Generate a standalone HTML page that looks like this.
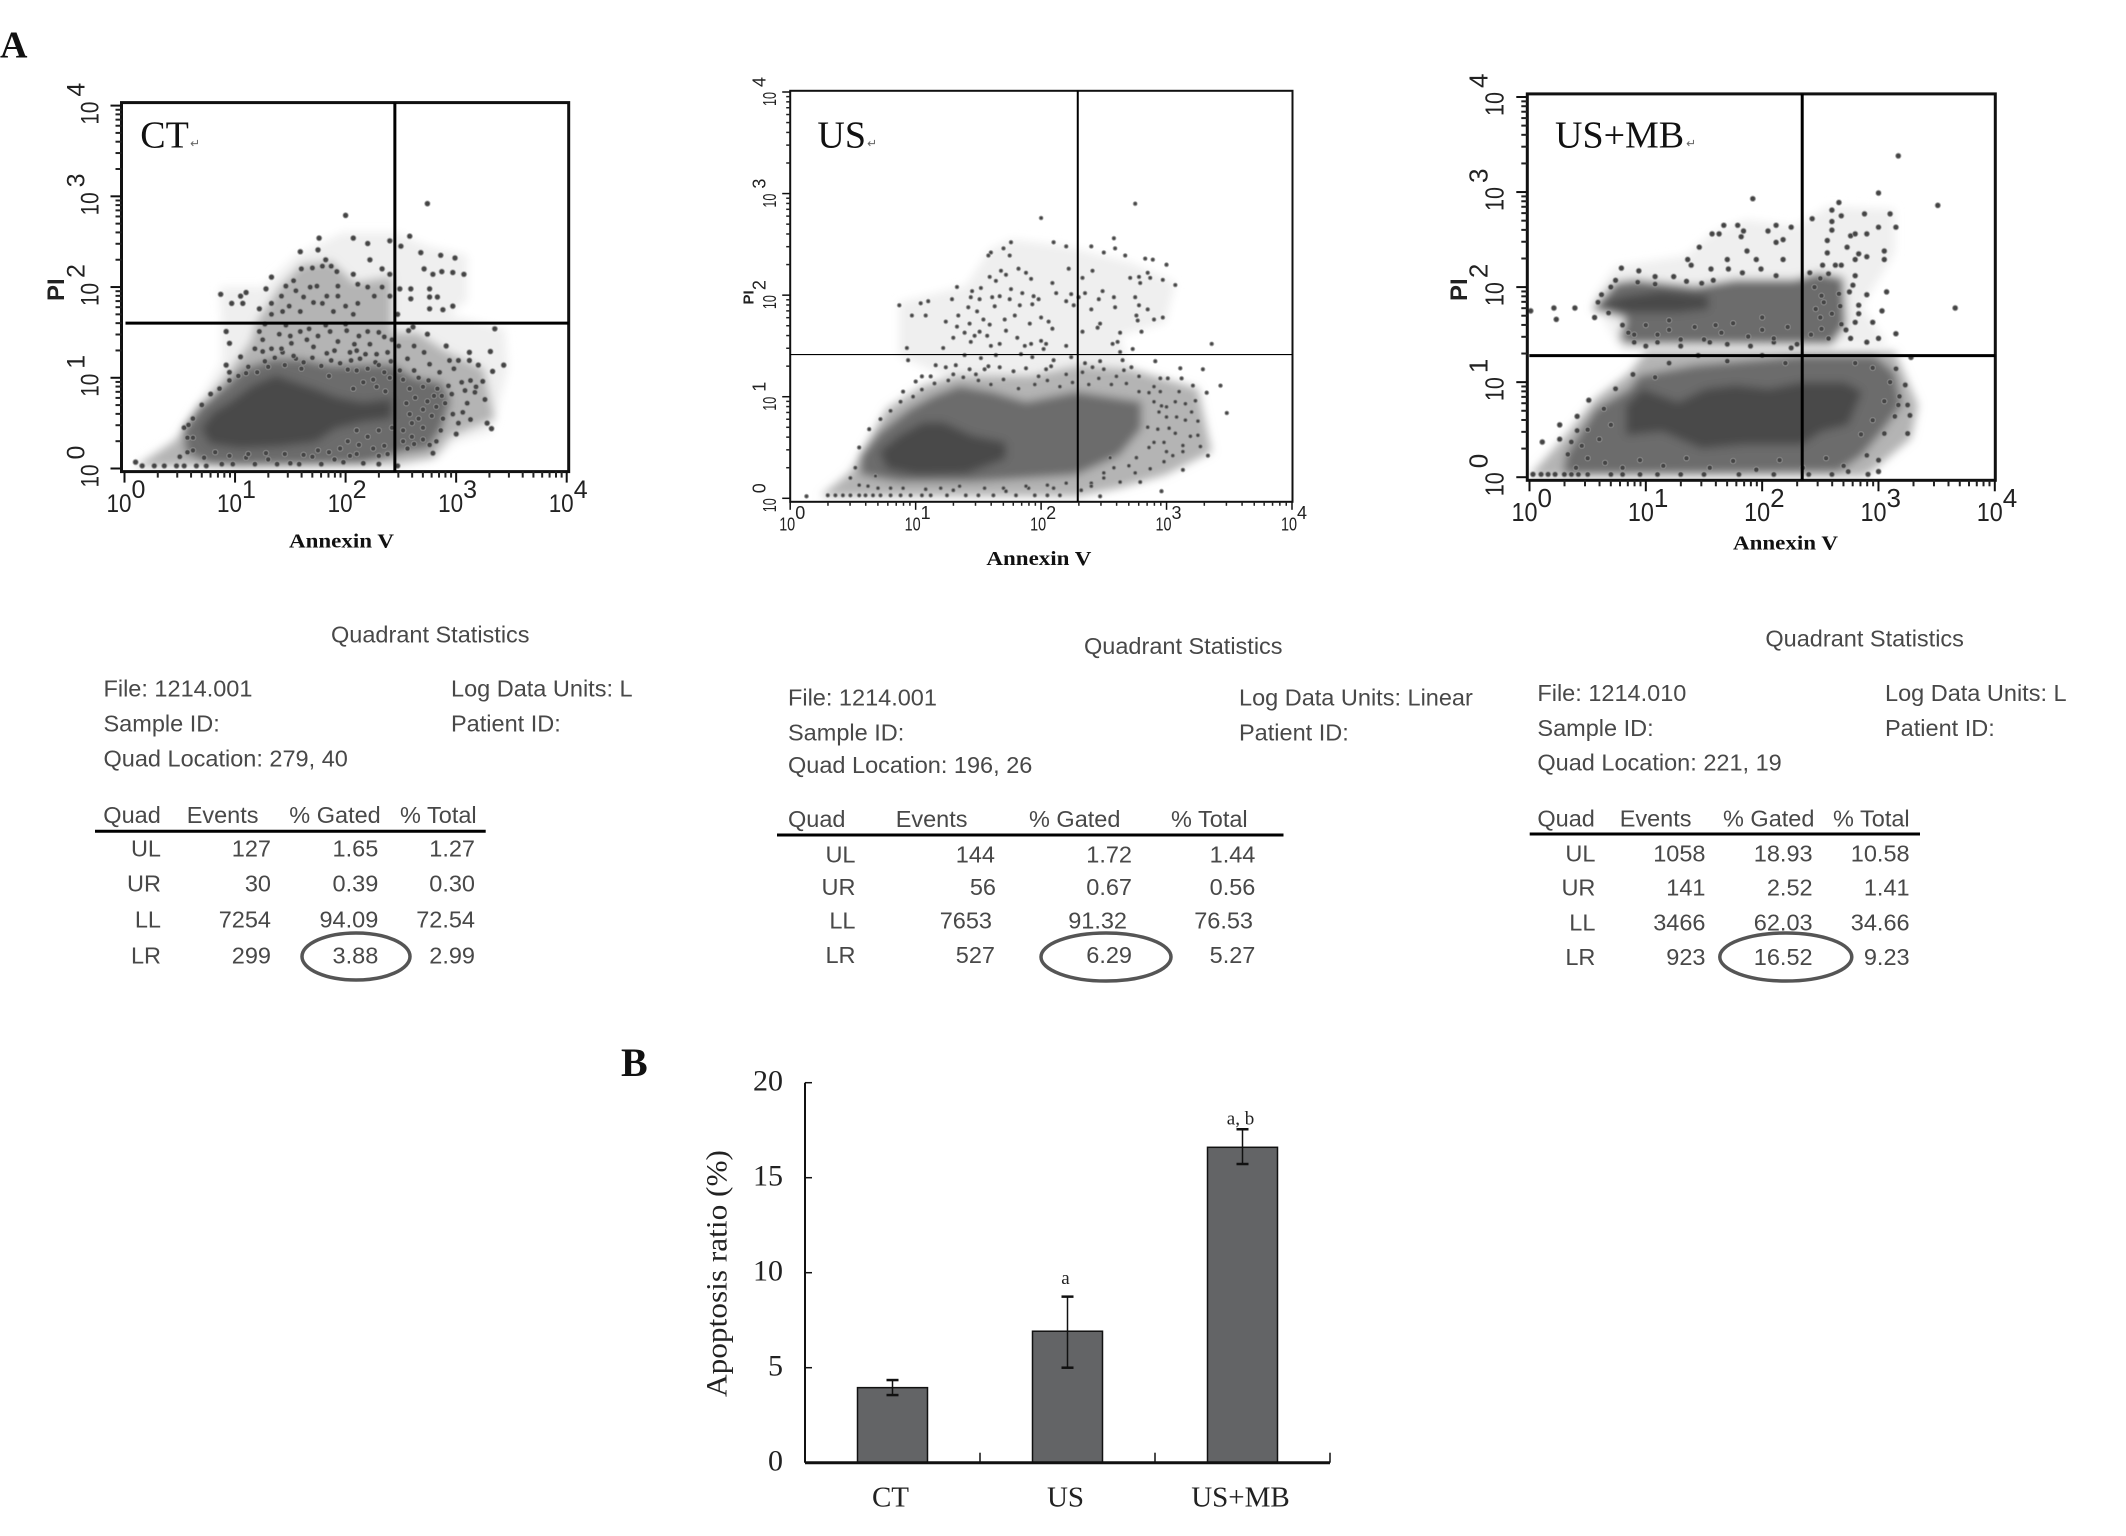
<!DOCTYPE html>
<html lang="en">
<head>
<meta charset="utf-8">
<title>Flow cytometry apoptosis figure</title>
<style>
html,body{margin:0;padding:0;background:#fff;}
svg{display:block;}
.st{font-family:"Liberation Sans",sans-serif;font-size:23.5px;fill:#484848;}
.e{text-anchor:end;}
.serif{font-family:"Liberation Serif",serif;fill:#111;}
</style>
</head>
<body>
<svg id="figure" xmlns="http://www.w3.org/2000/svg" width="2126" height="1536" viewBox="0 0 2126 1536">
<defs>
<filter id="soft-density" x="-10%" y="-10%" width="120%" height="120%"><feGaussianBlur stdDeviation="4.5"/></filter>
</defs>
<rect x="0" y="0" width="2126" height="1536" fill="#fff"/>
<text class="serif" x="0" y="57.5" font-size="38" font-weight="bold">A</text>
<text class="serif" x="621" y="1076" font-size="40" font-weight="bold">B</text>

<g>
<text class="st" x="331" y="642.6">Quadrant Statistics</text>
<text class="st" x="103.5" y="696.6">File: 1214.001</text>
<text class="st" x="103.5" y="731.6">Sample ID:</text>
<text class="st" x="103.5" y="766.6">Quad Location: 279, 40</text>
<text class="st" x="451" y="696.6">Log Data Units: L</text>
<text class="st" x="451" y="731.6">Patient ID:</text>
<text class="st" x="103.3" y="823">Quad</text>
<text class="st" x="186.7" y="823">Events</text>
<text class="st" x="289.3" y="823">% Gated</text>
<text class="st" x="400" y="823">% Total</text>
<line x1="95" y1="831.3" x2="485.7" y2="831.3" stroke="#000" stroke-width="3"/>
<text class="st e" x="161" y="856.7">UL</text>
<text class="st e" x="271" y="856.7">127</text>
<text class="st e" x="378.3" y="856.7">1.65</text>
<text class="st e" x="475" y="856.7">1.27</text>
<text class="st e" x="161" y="891.7">UR</text>
<text class="st e" x="271" y="891.7">30</text>
<text class="st e" x="378.3" y="891.7">0.39</text>
<text class="st e" x="475" y="891.7">0.30</text>
<text class="st e" x="161" y="927.7">LL</text>
<text class="st e" x="271" y="927.7">7254</text>
<text class="st e" x="378.3" y="927.7">94.09</text>
<text class="st e" x="475" y="927.7">72.54</text>
<text class="st e" x="161" y="963.3">LR</text>
<text class="st e" x="271" y="963.3">299</text>
<text class="st e" x="378.3" y="963.3">3.88</text>
<text class="st e" x="475" y="963.3">2.99</text>
<ellipse cx="356" cy="956.5" rx="54" ry="23.5" fill="none" stroke="#555" stroke-width="3.5"/>
</g>

<g>
<text class="st" x="1084" y="654">Quadrant Statistics</text>
<text class="st" x="788" y="705.6">File: 1214.001</text>
<text class="st" x="788" y="740.5">Sample ID:</text>
<text class="st" x="788" y="773.2">Quad Location: 196, 26</text>
<text class="st" x="1239" y="705.6">Log Data Units: Linear</text>
<text class="st" x="1239" y="740.5">Patient ID:</text>
<text class="st" x="788" y="827">Quad</text>
<text class="st" x="895.7" y="827">Events</text>
<text class="st" x="1029" y="827">% Gated</text>
<text class="st" x="1171" y="827">% Total</text>
<line x1="777" y1="835" x2="1283.5" y2="835" stroke="#000" stroke-width="3"/>
<text class="st e" x="855.5" y="862.4">UL</text>
<text class="st e" x="995" y="862.4">144</text>
<text class="st e" x="1132" y="862.4">1.72</text>
<text class="st e" x="1255.4" y="862.4">1.44</text>
<text class="st e" x="855.5" y="895">UR</text>
<text class="st e" x="996" y="895">56</text>
<text class="st e" x="1132" y="895">0.67</text>
<text class="st e" x="1255.4" y="895">0.56</text>
<text class="st e" x="855.5" y="928.7">LL</text>
<text class="st e" x="992" y="928.7">7653</text>
<text class="st e" x="1127" y="928.7">91.32</text>
<text class="st e" x="1253" y="928.7">76.53</text>
<text class="st e" x="855.5" y="963">LR</text>
<text class="st e" x="995" y="963">527</text>
<text class="st e" x="1132" y="963">6.29</text>
<text class="st e" x="1255.4" y="963">5.27</text>
<ellipse cx="1106" cy="957" rx="65" ry="24" fill="none" stroke="#555" stroke-width="3.5"/>
</g>

<g>
<text class="st" x="1765.4" y="646.6">Quadrant Statistics</text>
<text class="st" x="1537.4" y="701">File: 1214.010</text>
<text class="st" x="1537.4" y="736">Sample ID:</text>
<text class="st" x="1537.4" y="770.5">Quad Location: 221, 19</text>
<text class="st" x="1885" y="701">Log Data Units: L</text>
<text class="st" x="1885" y="736">Patient ID:</text>
<text class="st" x="1537.4" y="826.5">Quad</text>
<text class="st" x="1619.7" y="826.5">Events</text>
<text class="st" x="1723" y="826.5">% Gated</text>
<text class="st" x="1833" y="826.5">% Total</text>
<line x1="1529.7" y1="834" x2="1920" y2="834" stroke="#000" stroke-width="3"/>
<text class="st e" x="1595.4" y="861.4">UL</text>
<text class="st e" x="1705.5" y="861.4">1058</text>
<text class="st e" x="1812.6" y="861.4">18.93</text>
<text class="st e" x="1909.6" y="861.4">10.58</text>
<text class="st e" x="1595.4" y="895.7">UR</text>
<text class="st e" x="1705.5" y="895.7">141</text>
<text class="st e" x="1812.6" y="895.7">2.52</text>
<text class="st e" x="1909.6" y="895.7">1.41</text>
<text class="st e" x="1595.4" y="930.3">LL</text>
<text class="st e" x="1705.5" y="930.3">3466</text>
<text class="st e" x="1812.6" y="930.3">62.03</text>
<text class="st e" x="1909.6" y="930.3">34.66</text>
<text class="st e" x="1595.4" y="965">LR</text>
<text class="st e" x="1705.5" y="965">923</text>
<text class="st e" x="1812.6" y="965">16.52</text>
<text class="st e" x="1909.6" y="965">9.23</text>
<ellipse cx="1785.8" cy="957" rx="66" ry="24" fill="none" stroke="#555" stroke-width="3.5"/>
</g>
</svg>

<script>
/* ---------- shared axis data ---------- */
const decadeExponents = [0, 1, 2, 3, 4];
const minorMultiples = [2, 3, 4, 5, 6, 7, 8, 9];

/* ---------- scatter: quadrant gates in linear fluorescence units ---------- */
const ctQuadLocation = [279, 40];
const usQuadLocation = [196, 26];
const mbQuadLocation = [221, 19];

/* ---------- scatter: density regions, [log10 Annexin V, log10 PI] ---------- */
const ctFaintRegion = [[.86,2],[1.25,2],[1.55,2.35],[1.97,2.6],[2.45,2.6],[2.75,2.45],[3.1,2.35],[3.1,1.85],[2.93,1.7],[3.44,1.54],[3.47,1.1],[3.32,.4],[2.99,.29],[2.83,.11],[2.45,0],[.07,0],[.5,.37],[.88,1.17],[.88,1.54]];
const ctUpperSparseRegion = [[1.19,1.61],[1.4,2],[1.6,2.25],[1.87,2.29],[2.08,2.05],[2.42,2.12],[2.42,1.24],[1.07,1.1]];
const ctLowerSparseRegion = [[.45,.3],[.9,1],[1.05,1.25],[1.2,1.5],[2.4,1.5],[2.65,1.5],[2.9,1.3],[3.25,1.1],[3.35,.55],[2.95,.35],[2.8,.12],[2.45,.05],[.1,.02]];
const ctMidRegion = [[.53,.44],[.68,.7],[.92,.92],[1.07,1.1],[1.34,1.21],[1.6,1.21],[1.87,1.14],[2.15,1.15],[2.42,1.15],[2.63,1],[2.87,.95],[2.95,.75],[2.87,.44],[2.75,.22],[2.5,.18],[2.42,.14],[2.15,.04],[1.04,.02],[.77,.04],[.55,.18]];
const ctCoreRegion = [[.69,.44],[.8,.62],[.95,.73],[1.16,.92],[1.37,1.03],[1.55,.95],[1.73,.88],[1.91,.79],[2.15,.73],[2.42,.77],[2.42,.55],[2.15,.51],[1.91,.44],[1.73,.29],[1.4,.24],[1.04,.22],[.77,.27]];

const usFaintRegion = [[.87,1.93],[1.4,2.09],[1.59,2.45],[1.77,2.55],[2.2,2.48],[2.72,2.32],[3.07,2.12],[2.99,1.73],[2.62,1.6],[2.72,1.24],[1.22,1.21],[.87,1.4]];
const usSparseRegion = [[.48,.26],[.77,.88],[1.06,1.11],[1.32,1.21],[1.93,1.21],[2.3,1.31],[2.72,1.27],[3.25,1.08],[3.36,.46],[2.99,.23],[2.62,.1],[2.28,.02],[.24,.02]];
const usMidRegion = [[.56,.42],[.71,.65],[.95,.88],[1.14,1.01],[1.35,1.11],[1.61,1.05],[1.88,.95],[2.28,1.05],[2.8,.95],[2.8,.69],[2.62,.42],[2.28,.23],[1.93,.2],[1.45,.16],[.87,.16],[.56,.23]];
const usCoreRegion = [[.71,.46],[.87,.62],[1.06,.75],[1.22,.75],[1.45,.62],[1.72,.55],[1.72,.39],[1.4,.24],[1,.23],[.77,.29]];

const mbFaintRegion = [[.54,1.87],[.74,2.22],[1.34,2.33],[1.57,2.57],[1.86,2.71],[2.28,2.64],[2.57,2.85],[3.14,2.82],[3.14,2.36],[2.86,1.8],[3.08,1.39],[.8,1.32]];
const mbSparseRegion = [[1,1.32],[3.14,1.32],[3.34,.76],[3.28,.41],[2.94,.06],[2.86,.01],[0,.01],[.29,.41],[.57,.83],[.86,1.1]];
const mbMidRegion = [[.31,.23],[.57,.72],[.86,.93],[.94,1.07],[1.43,1.18],[2.34,1.28],[2.97,1.28],[3.14,1.1],[3.2,.76],[3.03,.48],[2.86,.23],[2.66,.06],[.29,.03]];
const mbUpperMidRegion = [[.54,1.77],[.74,2.05],[.91,2.08],[1.43,2.01],[1.77,2.08],[2.28,2.08],[2.48,2.15],[2.7,2.1],[2.72,1.6],[2.6,1.4],[.83,1.4],[.77,1.46],[.83,1.67]];
const mbCoreRegion = [[.83,.76],[.97,.93],[1.28,.79],[1.51,.93],[1.77,.97],[2.06,.93],[2.34,1],[2.71,1],[2.86,.9],[2.74,.55],[2.51,.48],[2.34,.34],[1.83,.34],[1.48,.3],[1.14,.48],[.83,.44]];
const mbUpperCoreRegion = [[.57,1.82],[.83,1.91],[1.14,1.96],[1.54,1.91],[1.54,1.77],[1.28,1.73],[.86,1.73]];

/* ---------- scatter: individually visible events, [log10 Annexin V, log10 PI] ---------- */
const ctEvents = [[2,2.79],[2.74,2.92],[1.76,2.54],[2.07,2.54],[2.2,2.48],[2.4,2.51],[2.58,2.56],[2.5,2.45],[2.68,2.38],[1.59,2.39],[1.75,2.41],[2.22,2.3],[2.86,2.35],[2.99,2.32],[1.82,2.3],[1.6,2.2],[1.7,2.21],[1.79,2.23],[1.87,2.23],[1.92,2.17],[2.07,2.14],[2.33,2.2],[2.4,2.14],[2.71,2.2],[2.79,2.14],[2.87,2.17],[2.97,2.16],[3.07,2.14],[1.33,2.11],[1.53,2.07],[1.46,2.01],[1.28,1.98],[1.1,1.94],[.87,1.92],[1.05,1.9],[.97,1.82],[1.07,1.82],[1.42,1.9],[1.55,1.96],[1.62,1.89],[1.68,2],[1.74,2.01],[1.83,1.9],[1.93,1.9],[1.93,2.01],[2.11,2.03],[2.2,2],[2.26,1.9],[2.33,2],[2.4,1.9],[2.49,1.98],[2.59,1.87],[2.59,1.98],[2.76,1.98],[2.76,1.89],[2.83,1.89],[2.76,1.76],[2.88,1.75],[2.97,1.79],[1.33,1.82],[1.22,1.76],[1.33,1.7],[1.43,1.73],[1.49,1.79],[1.59,1.73],[1.71,1.83],[1.79,1.82],[1.89,1.73],[2,1.79],[2.07,1.7],[2.11,1.82],[2.47,1.7],[1.27,1.59],[1.46,1.58],[1.82,1.58],[2,1.59],[.92,1.51],[.95,1.38],[1.22,1.51],[1.4,1.48],[1.59,1.51],[1.67,1.54],[1.86,1.51],[2.01,1.52],[2.2,1.51],[2.35,1.45],[2.57,1.52],[2.61,1.56],[2.74,1.48],[3.35,1.54],[1.51,1.38],[1.65,1.42],[1.93,1.4],[2.08,1.37],[2.22,1.37],[2.48,1.35],[2.62,1.35],[2.91,1.35],[1.18,1.32],[1.25,1.29],[1.33,1.32],[1.43,1.28],[1.71,1.34],[2.04,1.28],[2.18,1.26],[2.38,1.28],[2.71,1.28],[3.12,1.28],[3.31,1.29],[1.05,1.23],[1.55,1.21],[1.87,1.19],[2.05,1.19],[2.27,1.17],[2.56,1.21],[2.76,1.15],[2.94,1.19],[3.02,1.19],[3.12,1.19],[.92,1.14],[.95,1.06],[3.43,1.14],[3.33,1.07],[3.2,1.14],[2.98,1.1],[2.85,1.06],[2.49,1.08],[2.62,1.08],[3.05,.95],[3.13,.97],[3.24,.96],[2.93,.91],[3.26,.76],[3.17,.84],[2.97,.6],[3.13,.54],[3.06,.62],[3.28,.5],[3.32,.44],[3.02,.5],[3,.38],[2.88,.55],[2.79,.17],[2.76,.26],[2.62,.27],[2.56,.22],[2.47,.03],[.1,.07],[.16,.03],[.27,.03],[.36,.03],[.47,.03],[.54,.03],[.65,.03],[.74,.03],[.5,.13],[.57,.18],[.54,.45],[.58,.48],[.57,.34],[.62,.34],[1.1,1.05],[1.3,1.12],[1.6,1.1],[1.85,1.02],[2.1,1.08],[2.3,1.14],[2.25,.98],[2.4,1],[2.7,.9],[2.8,.8],[2.7,.65],[2.82,.68],[2.9,.72],[2.6,.5],[2.7,.45],[2.82,.3],[1.1,.12],[1.3,.1],[1.5,.06],[1.7,.13],[1.9,.1],[2.1,.16],[2.3,.05],[2.35,.25],
[.62,.55],[.7,.7],[.78,.82],[.86,.88],[.95,.97],[1.03,1.02],[1.12,1.12],[1.2,1.06],[1.27,1.18],[1.36,1.22],[1.45,1.14],[1.53,1.24],[1.62,1.17],[1.7,1.22],[1.78,1.13],[1.83,1.27],[1.95,1.16],[2.02,1.09],[2.13,1.21],[2.2,1.1],[2.28,1.26],[2.35,1.06],[2.41,1.18],[2.16,.95],[2.07,.88],[2.28,.9],[2.36,.85],[2.52,.98],[2.58,.88],[2.66,1],[2.75,.97],[2.83,.88],[2.55,.72],[2.63,.78],[2.74,.74],[2.87,.8],[2.96,.82],[3.08,.86],[3.18,.9],[3.1,.72],[2.58,.6],[2.66,.55],[2.78,.58],[2.86,.42],[2.52,.42],[2.6,.35],[2.7,.32],[2.52,.3],[2.42,.45],[2.3,.42],[2.2,.35],[2.1,.42],[2.02,.3],[1.95,.22],[1.85,.18],[1.75,.2],[1.62,.15],[1.45,.16],[1.28,.17],[1.12,.16],[.95,.14],[.82,.18],[.72,.12],[.62,.2],[2.38,.16],[2.25,.22],[2.12,.26],[2.04,.14],[1.98,.07],[1.78,.05],[1.58,.05],[1.38,.05],[1.18,.05],[.98,.05],[.88,.05],[2.16,.06],[2.3,.14],[1.25,1.42],[1.5,1.46],[1.75,1.46],[1.9,1.3],[2.12,1.46],[2.3,1.5],[2.42,1.42],[2.1,1.3],[1.42,1.32]];

const usEvents = [[2,2.76],[2.75,2.9],[2.1,2.52],[2.2,2.48],[1.76,2.52],[1.7,2.46],[1.75,2.39],[1.6,2.42],[1.58,2.39],[2.4,2.48],[2.5,2.42],[2.58,2.56],[2.59,2.46],[2.67,2.39],[2.83,2.36],[2.89,2.35],[3,2.3],[2.22,2.26],[2.33,2.17],[2.41,2.24],[1.82,2.26],[1.88,2.22],[1.92,2.16],[1.68,2.24],[1.72,2.2],[1.59,2.18],[1.64,2.14],[1.33,2.08],[1.1,1.94],[1.04,1.92],[.87,1.9],[.97,1.8],[1.08,1.8],[1.29,1.96],[1.45,2.04],[1.52,2.07],[1.44,1.98],[1.51,1.96],[1.42,1.88],[1.61,1.98],[1.67,1.99],[1.63,1.89],[1.75,1.96],[1.83,1.9],[1.76,2.06],[1.85,2.02],[1.94,1.99],[1.93,1.91],[1.98,1.96],[2.09,2.12],[2.12,2.02],[2.24,2.01],[2.2,1.94],[2.26,1.9],[2.3,1.98],[2.35,2.02],[2.4,1.86],[2.46,1.96],[2.58,1.98],[2.59,1.88],[2.49,2.04],[2.71,2.17],[2.78,2.18],[2.79,2.12],[2.87,2.17],[2.85,2.22],[2.97,2.15],[3.07,2.1],[2.75,1.98],[2.78,1.9],[2.85,1.86],[2.76,1.8],[2.77,1.75],[2.9,1.76],[2.97,1.78],[2.8,1.64],[2.45,1.68],[2.47,1.72],[2.33,1.64],[1.24,1.74],[1.34,1.8],[1.43,1.72],[1.49,1.84],[1.54,1.76],[1.59,1.71],[1.71,1.76],[1.79,1.8],[1.91,1.72],[2,1.78],[2.06,1.74],[2.09,1.67],[1.33,1.69],[1.39,1.63],[1.47,1.6],[1.51,1.64],[1.57,1.6],[1.72,1.65],[1.81,1.58],[1.3,1.58],[1.44,1.54],[1.67,1.52],[1.6,1.5],[1.87,1.5],[1.92,1.52],[2,1.55],[2.04,1.52],[2.02,1.47],[2.2,1.5],[1.22,1.48],[.93,1.48],[2.57,1.52],[2.61,1.54],[2.63,1.63],[3.36,1.52],[.94,1.36],[1.16,1.31],[1.24,1.29],[1.32,1.31],[1.39,1.41],[1.52,1.38],[1.64,1.41],[1.84,1.42],[1.93,1.39],[2.1,1.36],[2.24,1.39],[2.47,1.35],[2.63,1.44],[2.65,1.36],[2.91,1.35],[2.73,1.47],[1.43,1.27],[1.48,1.22],[1.55,1.27],[1.67,1.29],[1.88,1.28],[2.04,1.27],[2.33,1.24],[2.41,1.29],[2.72,1.29],[2.66,1.26],[3.11,1.28],[3.29,1.27],[2.95,1.18],[3.01,1.18],[3.12,1.18],[3.43,1.11],[3.21,1.11],[3.32,1.04],[3.48,.84],[2.86,1.04],[2.95,1.05],[3.07,.95],[3.23,.96],[3.15,.93],[2.96,.91],[2.94,.85],[3.25,.76],[3.15,.77],[3.02,.69],[3.07,.64],[3.19,.61],[3.13,.52],[3.27,.51],[3.33,.42],[3.13,.46],[3,.46],[2.98,.36],[3.13,.28],[2.87,.29],[2.75,.25],[2.79,.16],[2.63,.16],[2.96,.07],[2.47,.02],[.13,.02],[.3,.03],[.36,.03],[.42,.03],[.48,.03],[.55,.03],[.6,.03],[.66,.03],[.72,.03],[.8,.03],[.88,.03],[.96,.03],[1.05,.03],[1.12,.03],[1.25,.03],[1.4,.03],[1.5,.03],[1.62,.03],[1.8,.03],[1.95,.03],[2.05,.03],[2.15,.03],[.48,.2],[.55,.13],[.7,.1],[.9,.1],[1.2,.1],[1.35,.12],[1.7,.1],[1.9,.1],[2.1,.1],[2.4,.15],[2.5,.25],[2.55,.4],[2.9,.55],[2.85,.7],[3,.8],
[.55,.5],[.63,.68],[.72,.78],[.8,.86],[.88,.95],[.98,1],[1.05,1.07],[1.15,1.13],[1.26,1.16],[1.38,1.19],[1.5,1.16],[1.6,1.12],[1.7,1.17],[1.82,1.08],[1.95,1.12],[2.05,1.16],[2.15,1.1],[2.25,1.14],[2.38,1.12],[2.46,1.18],[2.56,1.12],[2.68,1.13],[2.78,1.05],[2.9,.95],[3,.9],[3.08,.8],[2.93,.68],[2.98,.55],[2.86,.5],[2.76,.4],[2.7,.32],[2.58,.3],[2.5,.2],[2.4,.12],[2.32,.08],[2.2,.15],[2.05,.13],[1.88,.12],[1.72,.07],[1.55,.1],[1.3,.08],[1.08,.09],[.8,.1],[.62,.12],[.52,.3],[.68,.22],[2.6,1.2],[2.5,1.27],[2.2,1.22],[2.08,1.3],[1.78,1.25],[1.58,1.3],[1.3,1.22],[1.12,1.2],[1,1.15],[.9,1.05],[1.05,1.2],[1.98,1.2],[2.35,1.33],[2.78,1.2],[2.9,1.1],[3.1,1.05],[3.2,.85],[3.25,.62],[3.05,.42]];

const mbEvents = [[3.17,3.38],[1.92,2.93],[3.51,2.86],[3,2.99],[2.66,2.89],[2.6,2.81],[2.68,2.75],[2.43,2.72],[2.88,2.77],[3.1,2.77],[2.6,2.69],[2.6,2.6],[3,2.63],[3.15,2.63],[2.9,2.56],[2.76,2.54],[2.8,2.56],[2.56,2.49],[2.73,2.42],[2.56,2.36],[2.83,2.35],[2.9,2.32],[3.05,2.38],[3.05,2.29],[2.8,2.29],[1.67,2.65],[1.79,2.65],[1.84,2.59],[1.82,2.53],[1.57,2.56],[1.63,2.56],[2.05,2.59],[2.12,2.65],[2.25,2.63],[2.18,2.5],[2.12,2.47],[1.46,2.42],[1.87,2.38],[1.36,2.29],[1.39,2.23],[1.7,2.29],[1.95,2.29],[2.18,2.29],[.79,2.2],[.94,2.17],[1.08,2.11],[1.24,2.11],[.74,2.07],[.93,2.05],[1.08,2.03],[1.35,2.06],[1.48,2.04],[1.58,2.07],[1.56,2.19],[1.71,2.19],[1.83,2.15],[1.99,2.19],[2.12,2.12],[2.52,2.23],[2.63,2.23],[2.68,2.23],[2.8,2.12],[2.41,2.15],[2.5,2.09],[2.57,2.14],[3.07,1.95],[3.66,1.78],[3.03,1.75],[2.95,1.63],[3.15,1.51],[2.83,1.81],[2.83,1.72],[2.8,1.63],[2.76,1.46],[3,1.46],[2.9,1.42],[.01,1.75],[.21,1.78],[.39,1.78],[.23,1.66],[.56,1.68],[.59,1.84],[.68,1.73],[2.51,1.91],[2.66,1.93],[2.67,1.8],[2.46,1.77],[2.53,1.84],[2.68,1.61],[2.51,1.56],[2.57,1.46],[3.28,1.26],[.89,1.08],[1.08,1.05],[.74,.93],[.51,.81],[.41,.64],[.26,.55],[.41,.49],[.26,.4],[.11,.37],[.36,.37],[.33,.24],[.64,.72],[3.15,1.14],[3.23,.97],[3.18,.85],[3.25,.76],[3.17,.76],[3.27,.65],[3.14,.64],[3.25,.46],[3.05,.46],[2.9,.23],[3,.18],[3,.06],[2.74,.06],[2.91,.03],[.03,.03],[.1,.03],[.16,.03],[.22,.03],[.3,.03],[.36,.03],[.42,.03],[.5,.03],[.7,.03],[.8,.03],[.95,.03],[1.1,.03],[1.3,.03],[1.5,.03],[1.8,.03],[2.1,.03],[2.4,.03],[2.6,.03],[1.1,1.42],[1.3,1.38],[1.5,1.45],[1.7,1.4],[1.9,1.38],[2.1,1.42],[2.25,1.36],[1,1.38],[.9,1.5],[1.2,1.55],[1.6,1.6],[2,1.55],
[.62,1.92],[.7,2],[.8,1.6],[.85,1.52],[.9,1.42],[1,1.6],[1.1,1.5],[1.2,1.65],[1.3,1.45],[1.42,1.58],[1.55,1.42],[1.65,1.52],[1.75,1.62],[1.88,1.48],[2,1.68],[2.1,1.46],[2.22,1.58],[2.3,1.4],[2.42,1.5],[2.5,1.68],[2.6,1.72],[2.72,1.55],[2.75,1.95],[2.78,2.02],[2.9,1.92],[2.45,2],[.4,.1],[.5,.2],[.6,.4],[.5,.5],[.7,.55],[.45,.33],[.65,.15],[.8,.1],[.95,.18],[1.15,.12],[1.35,.2],[1.55,.1],[1.75,.17],[1.95,.08],[2.15,.18],[2.35,.1],[2.55,.2],[2.7,.12],[2.85,.45],[2.95,.6],[3.05,.8],[3.1,1],[2.95,1.15],[2.8,1.2],[1.2,1.2],[1.45,1.28],[1.7,1.22],[2,1.28],[2.2,1.2]];

/* ---------- bar chart data ---------- */
const barCategories = ['CT', 'US', 'US+MB'];
const barValues = [3.95, 6.92, 16.6];
const barErrorHigh = [4.35, 8.74, 17.55];
const barErrorLow = [3.56, 5, 15.72];
const barSignificance = ['', 'a', 'a, b'];
const barTickValues = [0, 5, 10, 15, 20];

/* ---------- rendering ---------- */
const NS = 'http://www.w3.org/2000/svg';
const figure = document.getElementById('figure');

function make(tag, attrs, parent, text) {
  const el = document.createElementNS(NS, tag);
  for (const k in attrs) el.setAttribute(k, attrs[k]);
  if (text !== undefined) el.textContent = text;
  parent.appendChild(el);
  return el;
}

const densityShades = { faint: '#efefef', sparse: '#b4b4b4', mid: '#6c6c6c', core: '#4a4a4a' };

function drawPlot(p) {
  const g = make('g', {}, figure);
  
  

  const xScale = v => p.x0 + (p.x4 - p.x0) * v / 4;
  const yScale = v => p.y0 + (p.y4 - p.y0) * v / 4;

  const clip = make('clipPath', { id: p.key + '-clip' }, figure.querySelector('defs'));
  make('rect', { x: p.fx, y: p.fy, width: p.fw, height: p.fh }, clip);

  const clipGroup = make('g', { 'clip-path': 'url(#' + p.key + '-clip)' }, g);
  
  
  const densityGroup = make('g', { filter: 'url(#soft-density)' }, clipGroup);
  
  

  p.regions.forEach(r => {
    const pts = r.points.map(q => xScale(q[0]).toFixed(1) + ',' + yScale(q[1]).toFixed(1)).join(' ');
    const poly = make('polygon', { points: pts, fill: densityShades[r.level] }, densityGroup);
    
    
  });

  p.events.forEach(e => {
    const c = make('circle', { cx: xScale(e[0]).toFixed(1), cy: yScale(e[1]).toFixed(1), r: p.dot, fill: '#454545', stroke: '#999', 'stroke-width': 1.5, 'stroke-opacity': .55 }, clipGroup);
    
    
  });

  const frame = make('rect', { x: p.fx, y: p.fy, width: p.fw, height: p.fh, fill: 'none', stroke: '#111', 'stroke-width': p.sw }, g);
  
  

  const qx = xScale(Math.log10(p.quad[0]));
  const qy = yScale(Math.log10(p.quad[1]));
  const vLine = make('line', { x1: qx, y1: p.fy, x2: qx, y2: p.fy + p.fh, stroke: '#000', 'stroke-width': p.qv }, g);
  
  
  const hLine = make('line', { x1: p.fx + p.hInset, y1: qy, x2: p.fx + p.fw, y2: qy, stroke: '#000', 'stroke-width': p.qh }, g);
  
  

  decadeExponents.forEach(d => {
    const tx = make('line', { x1: xScale(d), y1: p.fy + p.fh, x2: xScale(d), y2: p.fy + p.fh + p.major, stroke: '#111', 'stroke-width': p.tw }, g);
    
    
    const ty = make('line', { x1: p.fx, y1: yScale(d), x2: p.fx - p.major, y2: yScale(d), stroke: '#111', 'stroke-width': p.tw }, g);
    
    

    if (d < 4) {
      minorMultiples.forEach(m => {
        const v = d + Math.log10(m);
        const mx = make('line', { x1: xScale(v), y1: p.fy + p.fh, x2: xScale(v), y2: p.fy + p.fh + p.minor, stroke: '#222', 'stroke-width': p.tw }, g);
        
        
        const my = make('line', { x1: p.fx, y1: yScale(v), x2: p.fx - p.minor, y2: yScale(v), stroke: '#222', 'stroke-width': p.tw }, g);
        
        
      });
    }

    const style = { 'font-family': '"Liberation Sans",sans-serif', 'font-size': p.font, fill: '#222' };
    const xBase = make('text', Object.assign({ x: xScale(d) + p.xBaseDx, y: p.xBaseY, textLength: p.baseLen, lengthAdjust: 'spacingAndGlyphs' }, style), g, '10');
    
    
    const xExp = make('text', Object.assign({ x: xScale(d) + p.xExpDx, y: p.xExpY }, style), g, String(d));
    
    

    const yBaseY = yScale(d) + p.yBaseDy;
    const yBase = make('text', Object.assign({ x: 0, y: 0, transform: 'translate(' + p.yBaseX + ' ' + yBaseY + ') rotate(-90)', textLength: p.baseLen - 2, lengthAdjust: 'spacingAndGlyphs' }, style), g, '10');
    
    
    const yExpY = yScale(d) + p.yExpDy;
    const yExp = make('text', Object.assign({ x: 0, y: 0, transform: 'translate(' + p.yExpX + ' ' + yExpY + ') rotate(-90)' }, style), g, String(d));
    
    
  });

  const title = make('text', { x: p.titleX, y: 147.5, 'font-family': '"Liberation Serif",serif', 'font-size': 38, fill: '#111' }, g, p.title);
  
  
  const ret = make('text', { x: p.retX, y: 147.5, 'font-family': '"Liberation Sans","DejaVu Sans",sans-serif', 'font-size': 12, fill: '#666' }, g, '↵');
  
  

  const xt = make('text', { x: p.xtX, y: p.xtY, textLength: 105, lengthAdjust: 'spacingAndGlyphs', 'font-family': '"Liberation Serif",serif', 'font-weight': 'bold', 'font-size': 20, fill: '#111' }, g, 'Annexin V');
  
  
  const yt = make('text', { x: 0, y: 0, transform: 'translate(' + p.ytX + ' ' + p.ytY + ') rotate(-90)', 'font-family': '"Liberation Sans",sans-serif', 'font-weight': 'bold', 'font-size': p.ytFont, fill: '#222' }, g, 'PI');
  
  
}

drawPlot({
  key: 'ct', title: 'CT', titleX: 140.3, retX: 190, quad: ctQuadLocation, events: ctEvents, dot: 2.6,
  regions: [{ level: 'faint', points: ctFaintRegion }, { level: 'sparse', points: ctUpperSparseRegion }, { level: 'sparse', points: ctLowerSparseRegion }, { level: 'mid', points: ctMidRegion }, { level: 'core', points: ctCoreRegion }],
  x0: 124.5, x4: 566.7, y0: 468.5, y4: 105.6, fx: 121.5, fy: 102.6, fw: 447.2, fh: 369, sw: 3, qv: 3, qh: 3, hInset: 4, tw: 2, major: 11, minor: 6,
  font: 25, xBaseDx: -18, xBaseY: 512, baseLen: 25, xExpDx: 7, xExpY: 498, yBaseX: 98.6, yBaseDy: 19, yExpX: 84.7, yExpDy: -9,
  xtX: 289, xtY: 547.7, ytX: 64, ytY: 301, ytFont: 24
});
drawPlot({
  key: 'us', title: 'US', titleX: 817.4, retX: 867, quad: usQuadLocation, events: usEvents, dot: 1.9,
  regions: [{ level: 'faint', points: usFaintRegion }, { level: 'sparse', points: usSparseRegion }, { level: 'mid', points: usMidRegion }, { level: 'core', points: usCoreRegion }],
  x0: 790.2, x4: 1292, y0: 498.3, y4: 92, fx: 790.2, fy: 90.8, fw: 502.3, fh: 411, sw: 2, qv: 2, qh: 1.2, hInset: 0, tw: 1.5, major: 8, minor: 4,
  font: 18, xBaseDx: -11, xBaseY: 530.5, baseLen: 16, xExpDx: 5, xExpY: 519, yBaseX: 775.9, yBaseDy: 14, yExpX: 765.6, yExpDy: -5,
  xtX: 986.4, xtY: 565, ytX: 753.5, ytY: 304.5, ytFont: 15
});
drawPlot({
  key: 'usmb', title: 'US+MB', titleX: 1555, retX: 1686, quad: mbQuadLocation, events: mbEvents, dot: 2.6,
  regions: [{ level: 'faint', points: mbFaintRegion }, { level: 'sparse', points: mbSparseRegion }, { level: 'mid', points: mbMidRegion }, { level: 'mid', points: mbUpperMidRegion }, { level: 'core', points: mbCoreRegion }, { level: 'core', points: mbUpperCoreRegion }],
  x0: 1529.5, x4: 1994.8, y0: 477.2, y4: 97, fx: 1527.3, fy: 93.9, fw: 468, fh: 386.4, sw: 3, qv: 3, qh: 3, hInset: 2, tw: 2, major: 11, minor: 6,
  font: 26, xBaseDx: -18, xBaseY: 521, baseLen: 26, xExpDx: 8, xExpY: 507, yBaseX: 1503.4, yBaseDy: 19, yExpX: 1487.6, yExpDy: -9,
  xtX: 1733, xtY: 549.6, ytX: 1467, ytY: 301, ytFont: 24
});

/* bar chart */
(function () {
  const left = 805, right = 1330, zeroY = 1462.7, topY = 1082.7, maxVal = 20, barW = 70;
  const yScale = v => zeroY - (zeroY - topY) * v / maxVal;
  const band = (right - left) / barCategories.length;
  const xCenter = i => left + band * (i + .5);
  const serif = '"Liberation Serif",serif';
  const sigGap = [0, 12.6, 5];

  const g = make('g', {}, figure);
  
  

  barCategories.forEach((cat, i) => {
    const cx = xCenter(i);
    const bar = make('rect', { x: cx - barW / 2, y: yScale(barValues[i]), width: barW, height: zeroY - yScale(barValues[i]), fill: '#636466', stroke: '#111', 'stroke-width': 1.5 }, g);
    
    

    const stem = make('line', { x1: cx, x2: cx, y1: yScale(barErrorHigh[i]), y2: yScale(barErrorLow[i]), stroke: '#111', 'stroke-width': 1.5 }, g);
    
    
    [barErrorHigh[i], barErrorLow[i]].forEach(v => {
      const cap = make('line', { x1: cx - 6, x2: cx + 6, y1: yScale(v), y2: yScale(v), stroke: '#111', 'stroke-width': 2.5 }, g);
      
      
    });

    const label = make('text', { x: cx - 2, y: 1506.7, 'text-anchor': 'middle', 'font-family': serif, 'font-size': 29, fill: '#222' }, g, cat);
    
    

    if (barSignificance[i]) {
      const sig = make('text', { x: cx - 2, y: yScale(barErrorHigh[i]) - sigGap[i], 'text-anchor': 'middle', 'font-family': serif, 'font-size': 19, fill: '#222' }, g, barSignificance[i]);
      
      
    }
  });

  barTickValues.forEach(v => {
    const t = make('line', { x1: left, x2: left + 7, y1: yScale(v), y2: yScale(v), stroke: '#111', 'stroke-width': 1.5 }, g);
    
    
    const lab = make('text', { x: 783, y: yScale(v) + 8, 'text-anchor': 'end', 'font-family': serif, 'font-size': 30, fill: '#222' }, g, String(v));
    
    
  });

  for (let i = 1; i <= barCategories.length; i++) {
    const t = make('line', { x1: left + band * i, x2: left + band * i, y1: zeroY, y2: zeroY - 10, stroke: '#111', 'stroke-width': 1.5 }, g);
    
    
  }

  const yAxis = make('line', { x1: left, x2: left, y1: topY, y2: zeroY, stroke: '#111', 'stroke-width': 2 }, g);
  
  
  const xAxis = make('line', { x1: left, x2: right, y1: zeroY, y2: zeroY, stroke: '#111', 'stroke-width': 3 }, g);
  
  

  const yTitle = make('text', { x: 0, y: 0, transform: 'translate(726.5 1397) rotate(-90)', textLength: 247, lengthAdjust: 'spacingAndGlyphs', 'font-family': serif, 'font-size': 30, fill: '#222' }, g, 'Apoptosis ratio (%)');
  
  
})();
</script>
</body>
</html>
